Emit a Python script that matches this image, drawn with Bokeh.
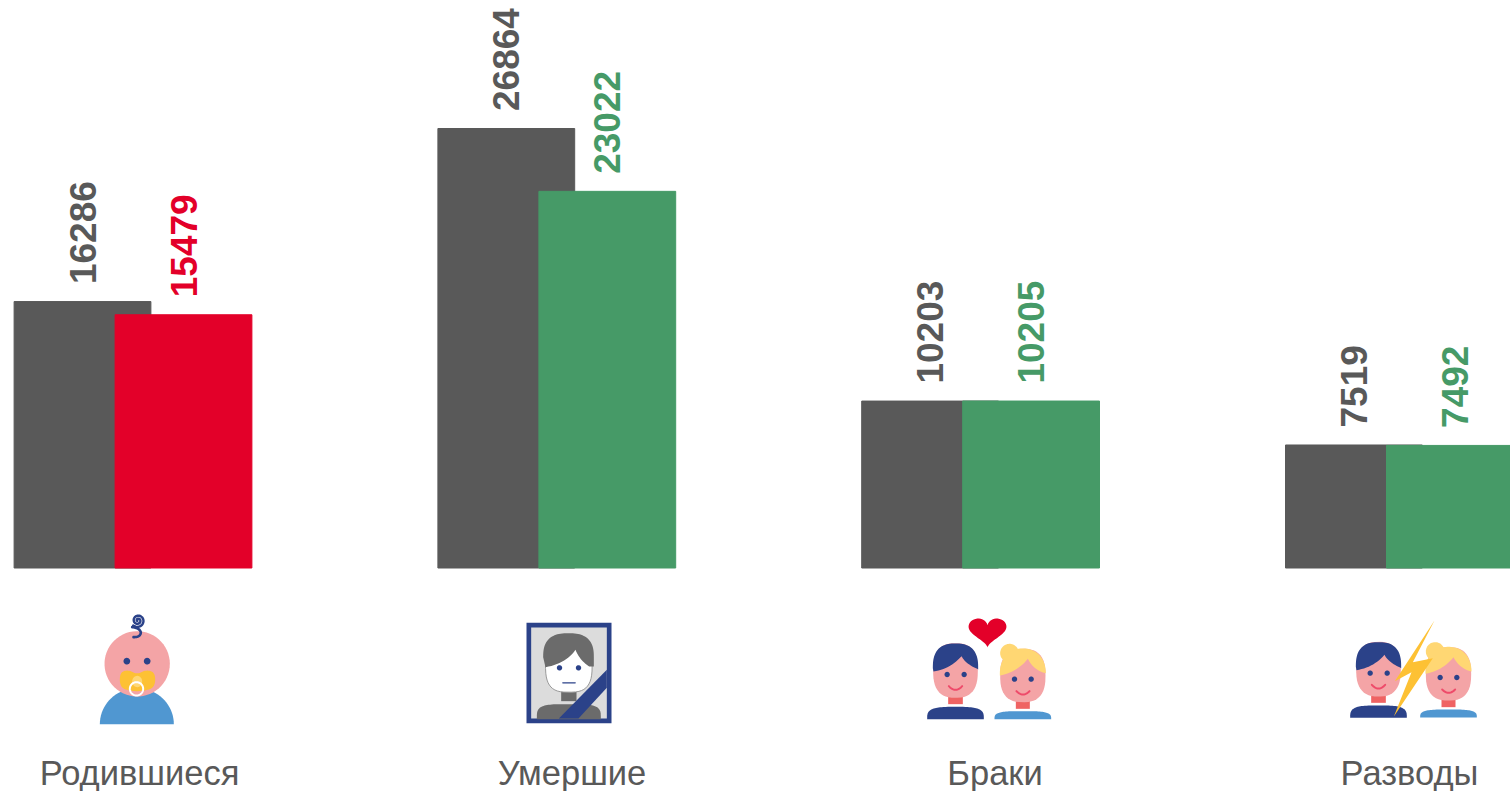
import numpy as np
from bokeh.plotting import figure
from bokeh.models import Range1d, ColumnDataSource
from bokeh.core.properties import value
from bokeh.embed import file_html
from bokeh.resources import INLINE

categories = ["Родившиеся", "Умершие", "Браки", "Разводы"]
previous = [16286, 26864, 10203, 7519]
current = [15479, 23022, 10205, 7492]
current_colors = ["#E30029", "#469A67", "#469A67", "#469A67"]
label_centers = [139, 571.5, 994.5, 1409]
GREY = "#595959"
NAVY = "#2B4289"; PINK = "#F4A4A6"; BLUE = "#5097D1"; YEL = "#FFD773"; AMB = "#FDC134"; CORAL = "#EF6363"; SMILE = "#EE4B6A"

W, H = 1510, 791
PX_PER_GROUP = 423.8
X0 = 132.5
BASE = 567.5
PX_PER_UNIT = 439.5 / 26864
BAR_W = 136.8 / PX_PER_GROUP
OFF = 50.5 / PX_PER_GROUP

p = figure(width=W, height=H, output_backend="svg", toolbar_location=None,
           x_range=Range1d(-X0 / PX_PER_GROUP, (W - X0) / PX_PER_GROUP),
           y_range=Range1d(-(H - BASE) / PX_PER_UNIT, BASE / PX_PER_UNIT),
           min_border=0, outline_line_color=None, background_fill_color="white",
           border_fill_color="white")
p.axis.visible = False
p.grid.visible = False
p.extra_x_ranges = {"px": Range1d(0, W)}
p.extra_y_ranges = {"px": Range1d(H, 0)}

xs = np.arange(len(categories))
src = ColumnDataSource(dict(xp=xs - OFF, xc=xs + OFF, prev=previous, cur=current,
                            col=current_colors,
                            lp=[str(v) for v in previous], lc=[str(v) for v in current]))
p.vbar(x="xp", top="prev", bottom=0, width=BAR_W, color=GREY, source=src)
p.vbar(x="xc", top="cur", bottom=0, width=BAR_W, color="col", source=src)
font = value("Liberation Sans")
common = dict(angle=np.pi / 2, text_align="left", text_baseline="middle", y_offset=-17.5,
              text_font=font, text_font_size="37px", text_font_style="bold", source=src)
p.text(x="xp", y="prev", text="lp", text_color=GREY, **common)
p.text(x="xc", y="cur", text="lc", text_color="col", **common)
p.text(x=label_centers, y=[791] * 4, text=categories, text_color=GREY, text_font=font,
       text_font_size="34.5px", text_align="center", text_baseline="bottom",
       x_range_name="px", y_range_name="px")


def chaikin(pts, n=3):
    a = np.array(pts, float)
    for _ in range(n):
        b = np.roll(a, -1, axis=0)
        a = np.stack([0.75 * a + 0.25 * b, 0.25 * a + 0.75 * b], axis=1).reshape(-1, 2)
    return a


def poly(o, pts, color, smooth=False, dx=0, dy=0, line=None, lw=1):
    a = chaikin(pts) if smooth else np.array(pts, float)
    p.patch(o[0] + (a[:, 0] + dx) / 3, o[1] + (a[:, 1] + dy) / 3, fill_color=color,
            line_color=line, line_width=lw, x_range_name="px", y_range_name="px")


def disc(o, cx, cy, rx, color, ry=None, dx=0, dy=0, hole=False, lw=1.5):
    ry = rx if ry is None else ry
    t = np.linspace(0, 2 * np.pi, 60)
    p.patch(o[0] + (cx + dx + rx * np.cos(t)) / 3, o[1] + (cy + dy + ry * np.sin(t)) / 3,
            fill_color=None if hole else color, line_color=color if hole else None,
            line_width=lw if hole else 1, x_range_name="px", y_range_name="px")


def superarc(cx, cy, rx, ry, a0, a1, e=2.6, n=50):
    t = np.linspace(a0, a1, n)
    c, s = np.cos(t), np.sin(t)
    return np.c_[cx + rx * np.sign(c) * np.abs(c) ** (2 / e), cy + ry * np.sign(s) * np.abs(s) ** (2 / e)]


def bez(a, b, c, n=14):
    t = np.linspace(0, 1, n)[:, None]
    return (1 - t) ** 2 * np.array(a) + 2 * t * (1 - t) * np.array(b) + t ** 2 * np.array(c)


def stroke(o, pts, color, w, dx=0, dy=0):
    a = np.array(pts, float)
    p.line(o[0] + (a[:, 0] + dx) / 3, o[1] + (a[:, 1] + dy) / 3, line_color=color, line_width=w,
           line_cap="round", line_join="round", x_range_name="px", y_range_name="px")


def smile(o, x1, x2, y, d, dx=0, dy=0):
    t = np.linspace(-1, 1, 15)
    stroke(o, np.c_[(x1 + x2) / 2 + t * (x2 - x1) / 2, y + d * (1 - t ** 2)], SMILE, 2, dx, dy)


def shoulders(o, x1, x2, top, bottom, color, dx=0, dy=0):
    r = (bottom - top)
    arc = superarc((x1 + x2) / 2, bottom, (x2 - x1) / 2, r, np.pi, 2 * np.pi, e=3.5)
    poly(o, arc, color, dx=dx, dy=dy)


# baby
o = (60, 600)
t = np.linspace(np.pi, 2 * np.pi, 40)
poly(o, np.c_[229 + 111 * np.cos(t), 371 + 108 * np.sin(t)], BLUE)
disc(o, 230, 190, 98, PINK)
disc(o, 199, 182, 10, NAVY)
disc(o, 260, 182, 10, NAVY)
poly(o, [(178, 215), (205, 208), (230, 222), (255, 208), (284, 215), (284, 260), (250, 272),
         (210, 272), (178, 260)], AMB, smooth=True)
disc(o, 230, 243, 15, YEL, ry=17)
disc(o, 228, 265, 20, "white", hole=True, lw=2)
th = np.linspace(0, 4 * np.pi, 60)
r = 2 + th * 1.45
stroke(o, np.c_[232 + r * np.cos(th + 2.33), 60 + r * np.sin(th + 2.33)], NAVY, 2.4)
stroke(o, np.r_[bez((215, 80), (238, 82), (241, 96)), bez((241, 96), (240, 110), (219, 110))], NAVY, 2.6)

# portrait
o = (500, 610)
poly(o, [(78, 37), (333, 37), (333, 338), (78, 338)], NAVY)
poly(o, [(92, 51), (319, 51), (319, 324), (92, 324)], "#DCDCDC")
poly(o, superarc(205, 326, 96, 45, np.pi, 2 * np.pi, e=4), "#6B6B6B")
poly(o, [(182, 238), (228, 238), (228, 272), (182, 272)], "#6B6B6B")
poly(o, superarc(205, 160, 70, 85, 0, 2 * np.pi, e=3), "white", line="#9A9A9A", lw=1)
poly(o, np.r_[superarc(204, 140, 76, 72, np.pi, 2 * np.pi), [(280, 168)],
              bez((266, 168), (238, 150), (225, 118)), bez((225, 118), (195, 160), (135, 170))],
     "#6B6B6B")
disc(o, 177, 172, 8, NAVY)
disc(o, 234, 172, 8, NAVY)
stroke(o, [(187, 217), (224, 217)], NAVY, 1.4)
poly(o, [(319, 178), (319, 232), (234, 324), (175, 324)], NAVY)


def man(o, dx, dy):
    shoulders(o, 50, 220, 304, 341, NAVY, dx, dy)
    poly(o, [(113, 265), (157, 265), (157, 296), (113, 296)], CORAL, dx=dx, dy=dy)
    poly(o, superarc(135, 195, 67, 82, 0, 2 * np.pi), PINK, dx=dx, dy=dy)
    poly(o, np.r_[superarc(135, 188, 68, 74, np.pi, 2 * np.pi), [(203, 192)],
                  bez((200, 190), (165, 175), (153, 152)), bez((153, 152), (120, 190), (69, 198))],
         NAVY, dx=dx, dy=dy)
    disc(o, 110, 207, 8, NAVY, dx=dx, dy=dy)
    disc(o, 161, 207, 8, NAVY, dx=dx, dy=dy)
    smile(o, 115, 155, 242, 11, dx, dy)


def woman(o, dx, dy):
    shoulders(o, 252, 422, 317, 341, BLUE, dx, dy)
    poly(o, [(316, 280), (358, 280), (358, 310), (316, 310)], CORAL, dx=dx, dy=dy)
    poly(o, superarc(337, 210, 68, 80, 0, 2 * np.pi), PINK, dx=dx, dy=dy)
    disc(o, 297, 143, 28, YEL, dx=dx, dy=dy)
    poly(o, np.r_[superarc(337, 205, 69, 76, np.pi, 2 * np.pi, e=2.2), [(406, 203)],
                  bez((406, 203), (370, 195), (352, 160)), bez((352, 160), (320, 200), (268, 210))],
         YEL, dx=dx, dy=dy)
    disc(o, 312, 221, 8, NAVY, dx=dx, dy=dy)
    disc(o, 362, 221, 8, NAVY, dx=dx, dy=dy)
    smile(o, 318, 357, 257, 10, dx, dy)


# marriage
o = (910, 605)
man(o, 0, 0)
woman(o, 0, 0)
tt = np.linspace(0, 2 * np.pi, 80)
hx = 16 * np.sin(tt) ** 3
hy = -(13 * np.cos(tt) - 5 * np.cos(2 * tt) - 2 * np.cos(3 * tt) - np.cos(4 * tt))
poly(o, np.c_[231 + hx * 3.55, 75 + hy * 3.0], "#E30029")

# divorce
o = (1335, 610)
man(o, -6, -19)
woman(o, 2, -20)
poly(o, [(297, 30), (232, 155), (292, 143), (175, 318), (228, 185), (178, 212)], AMB)

open("out.html", "w").write(file_html(p, INLINE))
